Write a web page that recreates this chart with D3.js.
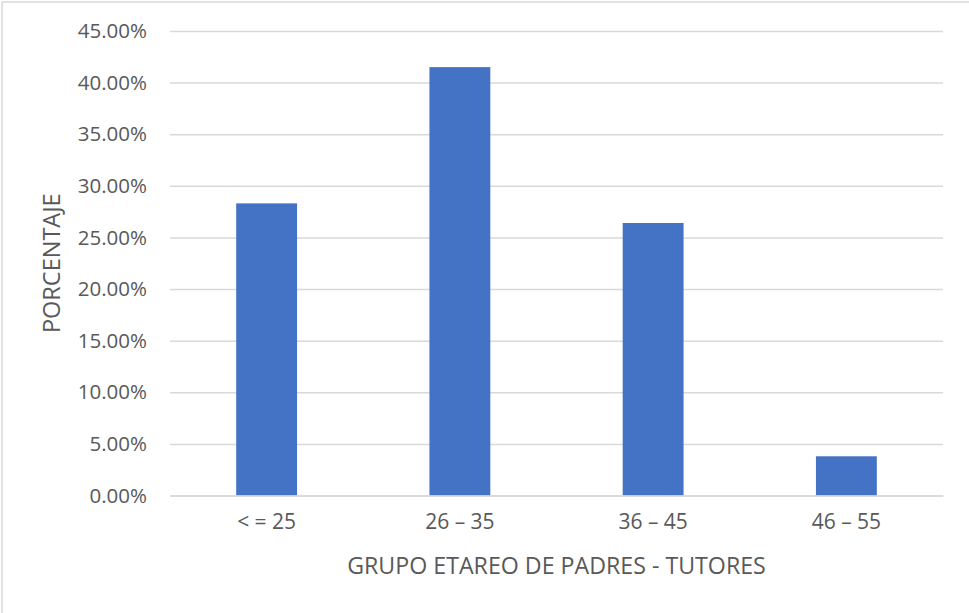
<!DOCTYPE html>
<html>
<head>
<meta charset="utf-8">
<script src="https://cdn.jsdelivr.net/npm/d3@7"></script>
<style>
  html, body { margin: 0; padding: 0; background: #fff; }
  svg { display: block; }
  text { font-family: "Open Sans", "Noto Sans", sans-serif; fill: #595959; }
</style>
</head>
<body>
<svg id="chart" width="969" height="613"></svg>
<script>
// Age groups of parents / guardians and their share (%)
const categories = ["< = 25", "26 – 35", "36 – 45", "46 – 55"];
const values = [28.3, 41.5, 26.4, 3.8];
const yTicks = [0, 5, 10, 15, 20, 25, 30, 35, 40, 45];
const yTitle = "PORCENTAJE";
const xTitle = "GRUPO ETAREO DE PADRES - TUTORES";

const svg = d3.select("#chart");
const W = 969, H = 613;
const plot = { left: 170, right: 943, top: 31, bottom: 495.5 };

// Chart frame (only top and left edges fall inside the canvas)
svg.append("rect")
  .attr("x", 2).attr("y", 2)
  .attr("width", W + 10).attr("height", H + 10)
  .attr("fill", "#fff")
  .attr("stroke", "#d9d9d9").attr("stroke-width", 1.5);

const x = d3.scaleBand().domain(categories).range([plot.left, plot.right]).padding(0);
const y = d3.scaleLinear().domain([0, 45]).range([plot.bottom, plot.top]);
const barW = x.bandwidth() * 0.315;

// Horizontal gridlines + tick labels
const yAxis = d3.axisLeft(y)
  .tickValues(yTicks)
  .tickSize(-(plot.right - plot.left))
  .tickPadding(23)
  .tickFormat(d => d.toFixed(2) + "%");

const gy = svg.append("g")
  .attr("transform", `translate(${plot.left},0)`)
  .call(yAxis);
gy.select(".domain").remove();
gy.selectAll(".tick line").attr("stroke", "#d9d9d9").attr("stroke-width", 1.5);
gy.selectAll(".tick text")
  .attr("font-size", 20.5)
  .attr("font-family", "'Open Sans', sans-serif")
  .attr("fill", "#595959");

// Bars
svg.append("g").selectAll("rect")
  .data(values)
  .join("rect")
  .attr("x", (d, i) => x(categories[i]) + (x.bandwidth() - barW) / 2)
  .attr("width", barW)
  .attr("y", d => y(d))
  .attr("height", d => y(0) - y(d))
  .attr("fill", "#4472c4");

// Category axis
const xAxis = d3.axisBottom(x).tickSize(0).tickPadding(19);
const gx = svg.append("g")
  .attr("transform", `translate(0,${plot.bottom})`)
  .call(xAxis);
gx.select(".domain").attr("stroke", "#d9d9d9").attr("stroke-width", 1.5);
gx.selectAll(".tick text")
  .attr("font-size", 21)
  .attr("font-family", "'Open Sans', sans-serif")
  .attr("fill", "#595959");

// Axis titles
svg.append("text")
  .attr("x", (plot.left + plot.right) / 2)
  .attr("y", 574)
  .attr("text-anchor", "middle")
  .attr("font-size", 23.2)
  .text(xTitle);

svg.append("text")
  .attr("transform", `translate(60,${(plot.top + plot.bottom) / 2}) rotate(-90)`)
  .attr("text-anchor", "middle")
  .attr("font-size", 23.5)
  .text(yTitle);
</script>
</body>
</html>
